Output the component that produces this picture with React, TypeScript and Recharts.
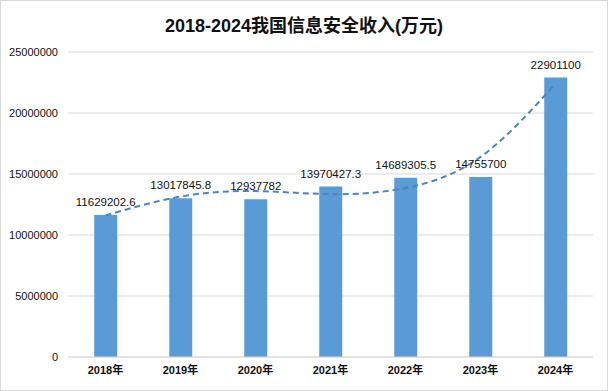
import React from 'react';
import { ComposedChart, Bar, Line, XAxis, YAxis, CartesianGrid, LabelList } from 'recharts';

const years = ['2018年', '2019年', '2020年', '2021年', '2022年', '2023年', '2024年'];
const revenue = [11629202.6, 13017845.8, 12937782, 13970427.3, 14689305.5, 14755700, 22901100];
const trend = [11600000, 13150000, 13600000, 13350000, 13850000, 16400000, 22400000];
const yTicks = [0, 5000000, 10000000, 15000000, 20000000, 25000000];

const data = years.map((y, i) => ({ year: y, revenue: revenue[i], trend: trend[i] }));

const FONT = '"Liberation Sans", "Noto Sans CJK SC", sans-serif';

export default function App() {
  return (
    <div style={{ position: 'absolute', left: 0, top: 0, width: 608, height: 391, background: '#fff', fontFamily: FONT }}>
      <div style={{ position: 'absolute', left: 0, top: 0, width: 606, height: 389, border: '1px solid #d9d9d9' }} />
      <div style={{ position: 'absolute', left: 0, top: 14, width: 608, textAlign: 'center', fontSize: 18, fontWeight: 'bold', color: '#111', fontFamily: FONT, lineHeight: '24px' }}>
        2018-2024我国信息安全收入(万元)
      </div>
      <ComposedChart width={608} height={391} data={data} margin={{ top: 52, right: 15, bottom: 4, left: 0 }} barCategoryGap="35%">
        <CartesianGrid vertical={false} stroke="#d9d9d9" />
        <XAxis dataKey="year" axisLine={{ stroke: '#d9d9d9' }} tickLine={false} tickSize={6} tickMargin={3} height={30}
          tick={{ fontSize: 11, fontWeight: 'bold', fill: '#111', fontFamily: FONT }} interval={0} />
        <YAxis width={68} domain={[0, 25000000]} ticks={yTicks} axisLine={false} tickLine={false} tickSize={6} tickMargin={4}
          tick={{ fontSize: 11, fill: '#111', fontFamily: FONT }} interval={0} />
        <Bar dataKey="revenue" fill="#5B9BD5" isAnimationActive={false}>
          <LabelList dataKey="revenue" position="top" offset={9} style={{ fontSize: 11.5, fill: '#111', fontFamily: FONT }} />
        </Bar>
        <Line dataKey="trend" type="natural" stroke="#4F83C0" strokeWidth={2} strokeDasharray="6 4" dot={false} isAnimationActive={false} />
      </ComposedChart>
    </div>
  );
}
